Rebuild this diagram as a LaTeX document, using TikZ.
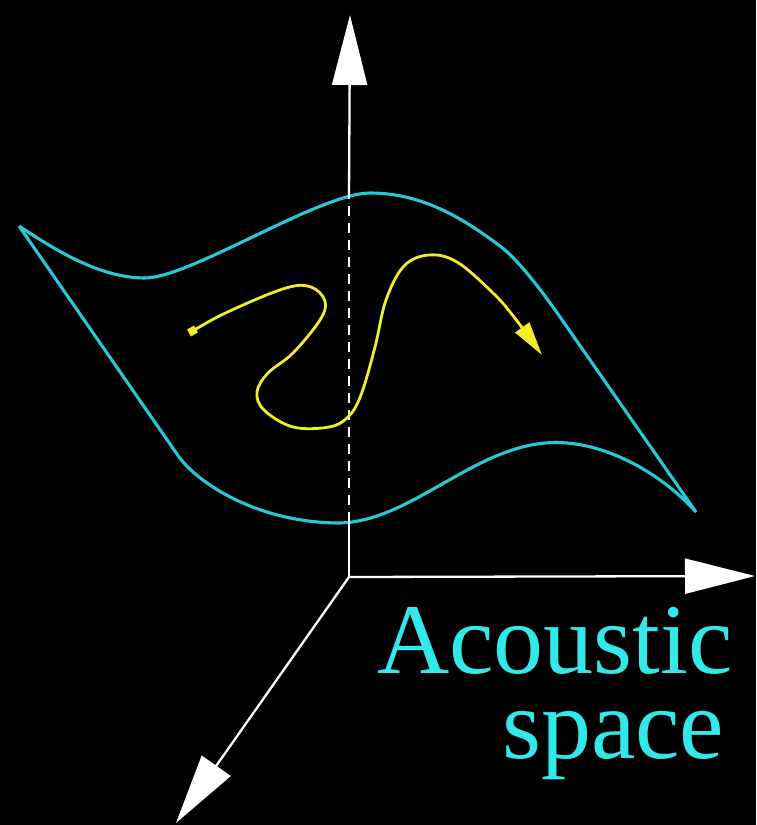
\documentclass[tikz,border=0pt]{standalone}
\usepackage{fontspec}
\setmainfont{Liberation Serif}
\usetikzlibrary{arrows.meta}
\definecolor{surfcyan}{RGB}{40,200,215}
\definecolor{textcyan}{RGB}{50,232,232}
\definecolor{pathyellow}{RGB}{240,238,40}
\tikzset{
  axis/.style={white, line width=2.3pt},
  axishead/.style={-{Triangle[length=70pt,width=35pt]}},
  surf/.style={surfcyan, line width=3.1pt, line join=round},
  traj/.style={pathyellow, line width=2.8pt},
  label/.style={textcyan, font=\fontsize{100}{100}\selectfont, inner sep=0pt, anchor=base west}
}
\begin{document}
\begin{tikzpicture}[x=1pt,y=-1pt]
\fill[black] (0,0) rectangle (756,825);
\useasboundingbox (0,0) rectangle (756,825);

\coordinate (O) at (349,577);
\coordinate (Vlow) at (349,522);
\coordinate (Vhigh) at (349,198);
\coordinate (Vtip) at (350,15);
\coordinate (Htip) at (755,576);
\coordinate (Dtip) at (176,823);
\coordinate (L) at (19,226);
\coordinate (R) at (696,512);

% surface
\draw[surf] (L) .. controls (55,250) and (100,278) .. (145,278)
  .. controls (190,278) and (320,193) .. (370,193)
  .. controls (420,193) and (460,216) .. (500,246)
  .. controls (520,261) and (546,297) .. (560,317) -- (R);
\draw[surf] (L) -- (179,457) .. controls (200,485) and (260,523) .. (340,523)
  .. controls (410,521) and (470,450) .. (545,443)
  .. controls (600,438) and (660,472) .. (R);

% axes
\draw[axis] (O) -- (Vlow);
\draw[axis, dash pattern=on 10pt off 7pt] (Vlow) -- (Vhigh);
\draw[axis, axishead] (Vhigh) -- (Vtip);
\draw[axis, axishead] (O) -- (Htip);
\draw[axis, axishead] (O) -- (Dtip);

% trajectory
\draw[traj, {Square[length=8pt,width=8pt]}-{Triangle[length=34pt,width=17pt]}]
  plot[smooth, tension=0.6] coordinates {(189,333) (232,310) (286,288) (311,287) (325,301) (320,320) (293,353) (268,373) (257,392) (264,410) (293,427) (329,427) (348,417) (361,395) (375,347) (386,300) (404,266) (429,255) (457,262) (493,293) (514,317) (542,355)};

% label
\node[label] (t1) at (377,673) {Acoustic};
\node[label] (t2) at (502,758) {space};
\end{tikzpicture}
\end{document}
